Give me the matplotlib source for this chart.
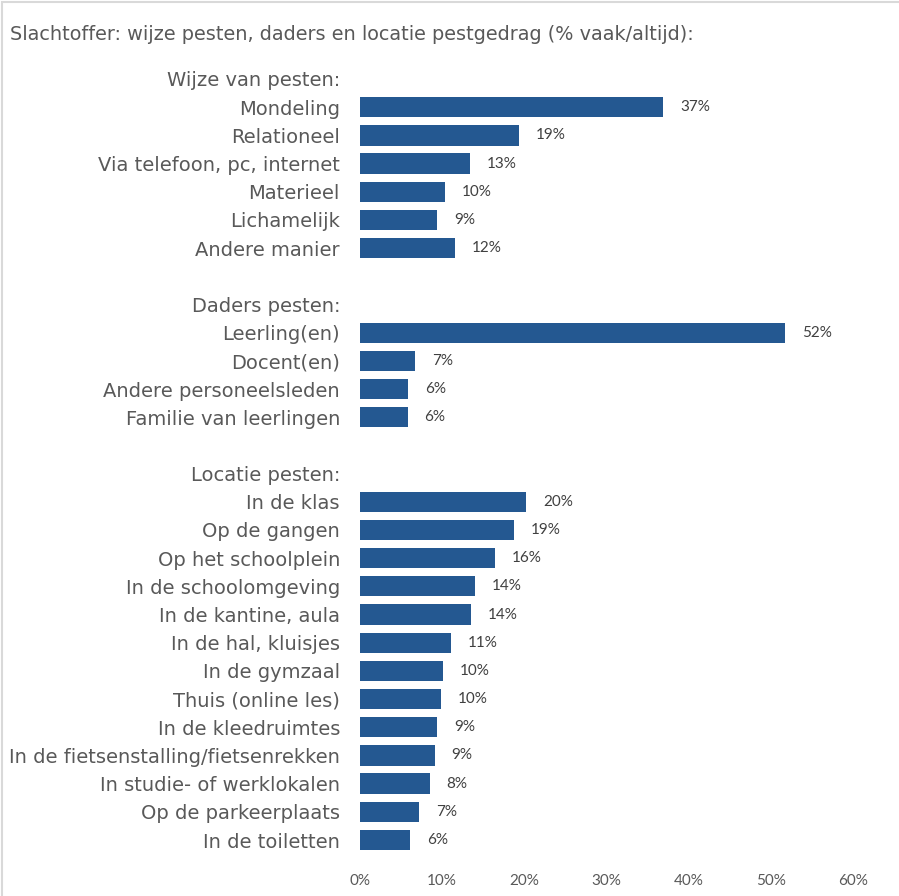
import numpy as np
import matplotlib.pyplot as plt
from matplotlib.patches import Rectangle

# chart data
title = "Slachtoffer: wijze pesten, daders en locatie pestgedrag (% vaak/altijd):"

wijze_header = "Wijze van pesten:"
wijze_labels = ["Mondeling", "Relationeel", "Via telefoon, pc, internet",
                "Materieel", "Lichamelijk", "Andere manier"]
wijze_values = [36.9, 19.3, 13.4, 10.3, 9.4, 11.6]
wijze_text = ["37%", "19%", "13%", "10%", "9%", "12%"]

daders_header = "Daders pesten:"
daders_labels = ["Leerling(en)", "Docent(en)", "Andere personeelsleden",
                 "Familie van leerlingen"]
daders_values = [51.7, 6.7, 5.9, 5.8]
daders_text = ["52%", "7%", "6%", "6%"]

locatie_header = "Locatie pesten:"
locatie_labels = ["In de klas", "Op de gangen", "Op het schoolplein",
                  "In de schoolomgeving", "In de kantine, aula",
                  "In de hal, kluisjes", "In de gymzaal", "Thuis (online les)",
                  "In de kleedruimtes", "In de fietsenstalling/fietsenrekken",
                  "In studie- of werklokalen", "Op de parkeerplaats",
                  "In de toiletten"]
locatie_values = [20.2, 18.7, 16.4, 14.0, 13.5, 11.1, 10.1, 9.9, 9.4, 9.1,
                  8.5, 7.2, 6.1]
locatie_text = ["20%", "19%", "16%", "14%", "14%", "11%", "10%", "10%",
                "9%", "9%", "8%", "7%", "6%"]

xticks = [0, 10, 20, 30, 40, 50, 60]

# build the slot list: header, rows, blank, header, rows, ...
ylabels, vals, txts = [], [], []
groups = [(wijze_header, wijze_labels, wijze_values, wijze_text),
          (daders_header, daders_labels, daders_values, daders_text),
          (locatie_header, locatie_labels, locatie_values, locatie_text)]
for gi, (hdr, labs, vs, ts) in enumerate(groups):
    if gi > 0:
        ylabels.append("")
        vals.append(np.nan)
        txts.append("")
    ylabels.append(hdr)
    vals.append(np.nan)
    txts.append("")
    ylabels.extend(labs)
    vals.extend(vs)
    txts.extend(ts)

pos = np.arange(len(ylabels))
W, H = 899, 896
fig = plt.figure(figsize=(W / 100, H / 100), dpi=100)
fig.patches.append(Rectangle((2 / W, -0.1), 1.2, 1.1 - 2 / H,
                             transform=fig.transFigure, fill=False,
                             edgecolor="#D9D9D9", linewidth=1.5))

n = len(ylabels)
slot = (840 - 79) / (n - 1)
top = 79 - slot / 2
bottom = 840 + slot / 2
ax = fig.add_axes([360 / W, 1 - bottom / H, (853 - 360) / W, (bottom - top) / H])

bar_color = "#245891"
mask = ~np.isnan(np.array(vals, dtype=float))
ax.barh(pos[mask], np.array(vals)[mask], height=0.72, color=bar_color)
for p, v, t in zip(pos, vals, txts):
    if t:
        ax.text(v + 2.05, p, t, va="center", ha="left", fontsize=11,
                color="#404040", family="Lato")

ax.set_xlim(0, 60)
ax.set_ylim(n - 0.5, -0.5)
ax.set_yticks(pos)
ax.set_yticklabels(ylabels, fontsize=14, color="#595959", family="DejaVu Sans")
ax.set_xticks(xticks)
ax.set_xticklabels([f"{x}%" for x in xticks], fontsize=11, color="#595959",
                   family="Lato")
ax.tick_params(axis="y", length=0, pad=14.4)
ax.tick_params(axis="x", length=0, pad=14)
for s in ax.spines.values():
    s.set_visible(False)

fig.text(10 / W, 1 - 35 / H, title, fontsize=13.9, color="#595959",
         va="center", ha="left", family="DejaVu Sans")

fig.savefig("out.png", dpi=100)
